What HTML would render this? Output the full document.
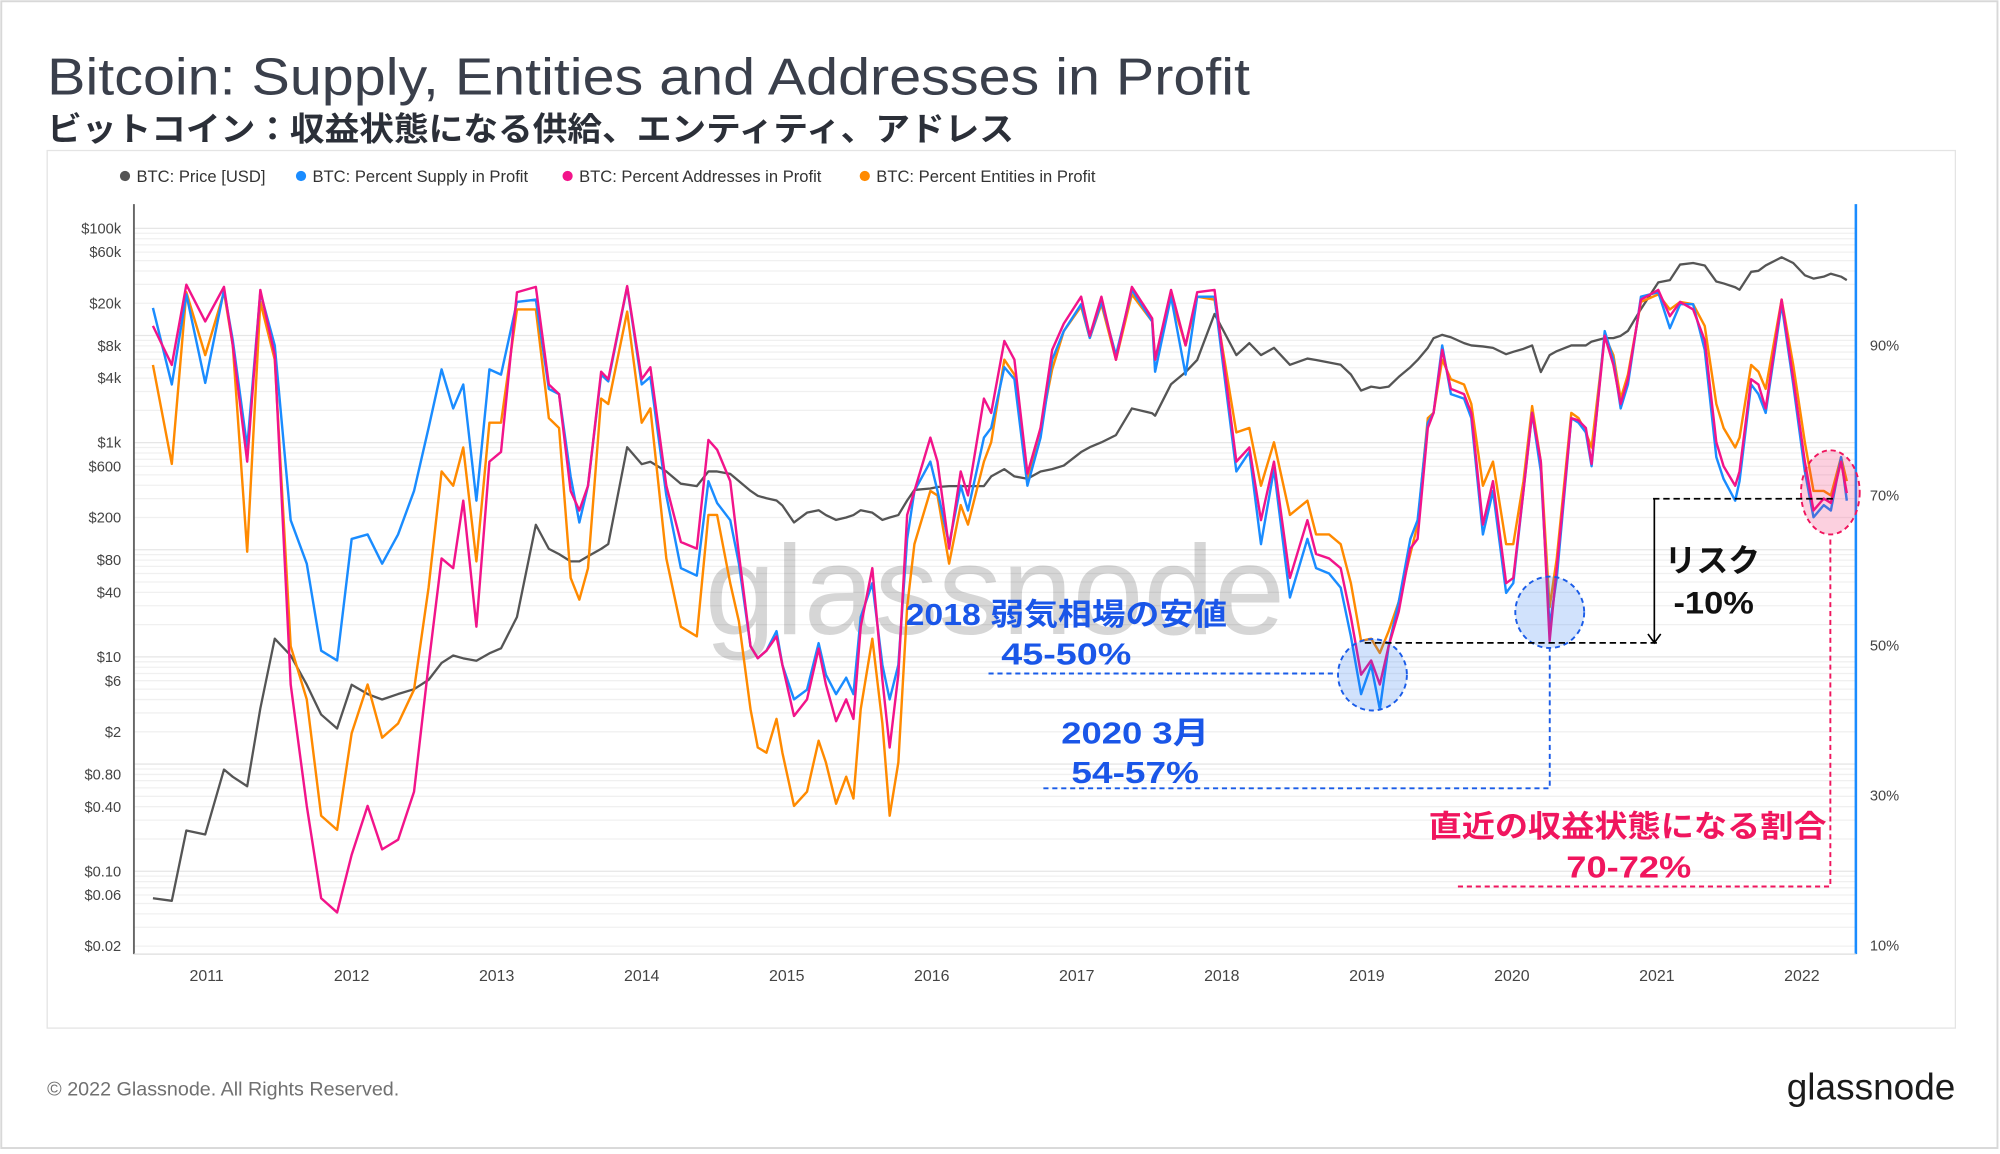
<!DOCTYPE html>
<html><head><meta charset="utf-8">
<style>
html,body{margin:0;padding:0;background:#fff;}
svg{display:block;}
text{font-family:"Liberation Sans","Noto Sans CJK JP",sans-serif;}
</style></head>
<body>
<svg id="chart" width="2000" height="1154" viewBox="0 0 1568 904.7" preserveAspectRatio="none" xmlns="http://www.w3.org/2000/svg">
<rect x="1" y="1" width="1565" height="899" fill="#fff" stroke="#d8d8d8" stroke-width="1.5"/>
<text x="37" y="74" font-size="41" fill="#3a3f4b" font-weight="500" textLength="943" lengthAdjust="spacingAndGlyphs">Bitcoin: Supply, Entities and Addresses in Profit</text>
<text x="37" y="110" font-size="26" font-weight="bold" fill="#2b2f38" textLength="758" lengthAdjust="spacingAndGlyphs">ビットコイン：収益状態になる供給、エンティティ、アドレス</text>
<rect x="37" y="118" width="1496" height="688" fill="#fff" stroke="#e4e4e4" stroke-width="1"/>
<g id="legend">
 <g><circle cx="98" cy="138" r="4" fill="#555"/><text x="107" y="142.5" font-size="13" fill="#333">BTC: Price [USD]</text></g>
 <g><circle cx="236" cy="138" r="4" fill="#1a8cff"/><text x="245" y="142.5" font-size="13" fill="#333">BTC: Percent Supply in Profit</text></g>
 <g><circle cx="445" cy="138" r="4" fill="#f2148a"/><text x="454" y="142.5" font-size="13" fill="#333">BTC: Percent Addresses in Profit</text></g>
 <g><circle cx="678" cy="138" r="4" fill="#ff8a00"/><text x="687" y="142.5" font-size="13" fill="#333">BTC: Percent Entities in Profit</text></g>
</g>
<g id="grid"></g>
<text x="780" y="497" font-size="100" fill="#000" fill-opacity="0.16" text-anchor="middle" textLength="455" lengthAdjust="spacingAndGlyphs">glassnode</text>
<g id="axes"></g>
<g id="series"></g>
<g id="annot">
 <ellipse cx="1076" cy="529" rx="27" ry="28" fill="#1a6cf0" fill-opacity="0.2" stroke="#1a5ce8" stroke-width="1.5" stroke-dasharray="4,3"/>
 <ellipse cx="1215" cy="480" rx="27" ry="28" fill="#1a6cf0" fill-opacity="0.2" stroke="#1a5ce8" stroke-width="1.5" stroke-dasharray="4,3"/>
 <ellipse cx="1435" cy="386" rx="23" ry="33" fill="#f0155e" fill-opacity="0.2" stroke="#f0155e" stroke-width="1.5" stroke-dasharray="4,3"/>
 <line x1="775" y1="528" x2="1048" y2="528" stroke="#1a5ce8" stroke-width="1.5" stroke-dasharray="4,3"/>
 <polyline points="818,618 1215,618 1215,508" fill="none" stroke="#1a5ce8" stroke-width="1.5" stroke-dasharray="4,3"/>
 <line x1="1070" y1="504" x2="1300" y2="504" stroke="#000" stroke-width="1.3" stroke-dasharray="5,3"/>
 <line x1="1296" y1="391" x2="1440" y2="391" stroke="#000" stroke-width="1.3" stroke-dasharray="5,3"/>
 <line x1="1297" y1="391" x2="1297" y2="503" stroke="#000" stroke-width="1.3"/>
 <polyline points="1292,497 1297,504 1302,497" fill="none" stroke="#000" stroke-width="1.3"/>
 <polyline points="1143,695 1435,695 1435,420" fill="none" stroke="#f0155e" stroke-width="1.5" stroke-dasharray="4,3"/>
 <text x="710" y="490" font-size="24" font-weight="bold" fill="#1a56e8" textLength="252" lengthAdjust="spacingAndGlyphs">2018 弱気相場の安値</text>
 <text x="785" y="521" font-size="24" font-weight="bold" fill="#1a56e8" textLength="102" lengthAdjust="spacingAndGlyphs">45-50%</text>
 <text x="832" y="583" font-size="24" font-weight="bold" fill="#1a56e8" textLength="116" lengthAdjust="spacingAndGlyphs">2020 3月</text>
 <text x="840" y="614" font-size="24" font-weight="bold" fill="#1a56e8" textLength="100" lengthAdjust="spacingAndGlyphs">54-57%</text>
 <text x="1305" y="448" font-size="25" font-weight="bold" fill="#111" textLength="75" lengthAdjust="spacingAndGlyphs">リスク</text>
 <text x="1312" y="481" font-size="25" font-weight="bold" fill="#111" textLength="63" lengthAdjust="spacingAndGlyphs">-10%</text>
 <text x="1120" y="656" font-size="24" font-weight="bold" fill="#f0155e" textLength="312" lengthAdjust="spacingAndGlyphs">直近の収益状態になる割合</text>
 <text x="1228" y="688" font-size="24" font-weight="bold" fill="#f0155e" textLength="98" lengthAdjust="spacingAndGlyphs">70-72%</text>
</g>
<text x="37" y="859" font-size="15" fill="#707070" textLength="276" lengthAdjust="spacingAndGlyphs">© 2022 Glassnode. All Rights Reserved.</text>
<text x="1533" y="862" font-size="29" fill="#1b1b1b" text-anchor="end">glassnode</text>
</svg>
<script>
const dates = [2010.63,2010.76,2010.86,2010.99,2011.12,2011.18,2011.28,2011.37,2011.47,2011.58,2011.69,2011.79,2011.90,2012.00,2012.11,2012.21,2012.32,2012.43,2012.53,2012.62,2012.70,2012.77,2012.86,2012.95,2013.03,2013.14,2013.27,2013.36,2013.43,2013.51,2013.57,2013.63,2013.72,2013.77,2013.90,2014.00,2014.06,2014.17,2014.27,2014.38,2014.46,2014.52,2014.61,
2014.67,2014.75,2014.80,2014.86,2014.93,2014.97,2015.05,2015.14,2015.22,2015.27,2015.34,2015.41,2015.46,2015.51,2015.59,2015.66,2015.71,2015.77,2015.83,2015.88,2015.99,2016.04,2016.12,2016.20,2016.25,2016.36,2016.41,2016.50,2016.57,2016.66,2016.75,2016.83,2016.91,2017.03,2017.09,2017.17,2017.27,2017.38,2017.52,2017.54,2017.65,2017.75,2017.83,2017.95,2018.10,2018.19,2018.27,2018.36,2018.47,
2018.59,2018.65,2018.74,2018.82,2018.89,2018.96,2019.03,2019.09,2019.15,2019.22,2019.30,2019.35,2019.42,2019.46,2019.52,2019.58,2019.67,2019.72,2019.80,2019.87,2019.96,2020.01,2020.08,2020.14,2020.20,2020.26,2020.31,2020.41,2020.46,2020.51,2020.55,2020.64,2020.70,2020.75,2020.80,2020.89,2021.01,2021.09,2021.16,2021.25,2021.33,2021.41,2021.46,2021.54,2021.57,2021.65,2021.70,2021.75,2021.86,2021.94,2022.02,2022.08,2022.15,2022.20,2022.27,2022.31];

const supplyPct = [95.0,84.8,96.8,85.0,97.4,90.7,76.4,97.1,90.0,66.7,60.9,49.3,48.0,64.2,64.8,60.9,64.8,70.6,79.0,86.8,81.6,84.8,69.3,86.8,86.1,95.8,96.1,84.2,83.5,72.5,66.4,71.3,86.1,85.2,97.8,84.8,85.8,70.0,60.3,59.3,71.9,69.0,66.7,
60.9,49.9,48.3,49.3,51.9,47.4,42.8,44.1,50.3,46.1,43.5,45.7,43.5,53.8,58.3,47.4,42.8,47.4,64.2,70.6,74.5,70.6,63.5,71.3,68.0,77.7,79.0,87.1,85.5,71.3,77.7,88.1,91.9,95.5,91.0,95.8,88.7,97.4,93.2,86.5,96.5,86.1,96.5,96.5,73.2,75.8,63.5,73.5,56.4,
64.2,60.3,59.6,57.7,51.2,43.5,47.4,41.5,49.9,55.8,64.2,66.7,79.7,81.0,90.0,83.5,82.9,80.3,64.8,70.6,57.0,58.3,70.6,81.0,73.2,52.5,59.0,80.3,79.7,78.4,73.9,91.9,88.1,81.6,84.8,96.5,97.1,92.3,95.5,95.5,89.4,75.1,72.2,69.3,71.9,84.8,83.5,81.0,95.5,84.8,73.2,67.1,68.7,68.0,75.1,69.3];

const addressPct = [92.6,87.4,98.1,93.2,97.8,90.0,74.5,97.4,88.7,44.8,28.6,16.3,14.4,22.1,28.6,22.8,24.1,30.5,47.4,61.6,60.3,69.3,52.5,74.5,75.8,97.1,97.8,84.8,83.5,70.6,68.0,71.3,86.5,85.5,97.9,85.5,87.1,71.3,63.8,62.9,77.4,76.1,71.9,
62.2,49.9,48.3,49.3,51.2,47.4,40.6,42.8,49.6,44.8,39.9,42.8,40.2,52.5,60.3,45.4,36.4,46.1,67.4,70.6,77.7,74.5,62.9,73.2,70.0,82.9,81.0,90.6,88.1,72.9,79.0,89.4,92.9,96.5,91.3,96.5,88.1,97.8,93.6,88.1,97.4,90.0,97.1,97.4,74.5,76.4,66.7,74.5,59.0,
66.7,62.2,61.6,60.3,53.8,46.1,48.0,44.8,49.9,54.5,62.9,64.2,79.0,81.0,89.4,84.2,83.5,81.0,66.1,71.9,58.3,59.0,70.6,81.0,74.5,50.6,60.3,80.3,80.0,79.0,74.2,91.3,87.4,82.2,85.5,96.1,97.4,93.9,95.8,94.8,90.7,77.1,73.9,71.3,73.2,85.5,84.8,81.6,96.1,85.5,74.5,68.0,69.6,69.0,74.5,70.3];

const entityPct = [87.4,74.2,97.1,88.7,97.1,90.0,62.5,95.8,88.1,49.9,42.8,27.3,25.4,38.3,44.8,37.7,39.6,44.1,57.7,73.2,71.3,76.4,61.2,79.7,79.7,94.8,94.8,80.3,79.0,59.0,56.1,60.3,82.9,82.2,94.5,79.7,81.6,61.6,52.5,51.2,67.4,67.4,58.3,
53.2,41.5,36.4,35.7,40.2,35.7,28.6,30.5,37.3,34.4,28.9,32.5,29.6,41.5,50.9,39.6,27.3,34.4,55.1,63.5,70.6,70.0,60.9,68.7,66.1,74.5,77.1,88.1,86.1,72.2,79.0,86.8,91.9,95.2,91.0,95.5,88.1,96.8,93.2,88.1,96.5,90.0,96.5,96.1,78.4,79.0,71.3,77.1,67.4,
69.3,64.8,64.8,63.5,58.3,50.6,50.9,49.0,51.9,55.8,62.2,66.1,80.3,81.0,88.1,85.5,84.8,82.2,71.3,74.5,63.5,63.5,71.9,81.9,74.5,55.1,61.6,81.0,80.3,78.4,76.4,91.3,88.7,82.9,86.1,95.8,96.8,94.8,95.8,95.5,92.6,82.2,79.0,76.4,77.7,87.4,86.5,84.2,96.1,87.4,77.1,70.6,70.6,70.0,75.1,71.9];

const priceUsd = [0.056,0.053,0.24,0.22,0.89,0.76,0.62,3.3,14.8,10.3,5.5,2.9,2.15,5.5,4.5,4.0,4.5,5.0,6.1,8.8,10.3,9.7,9.2,10.8,12.0,23.6,171,102,91,78,78,87,102,113,906,629,662,538,414,393,538,538,511,
437,355,319,303,288,259,180,222,234,211,190,200,211,234,222,190,200,211,288,362,373,385,393,393,393,393,484,566,484,460,538,566,610,816,906,1005,1175,2085,1877,1782,3510,4550,5900,15900,6550,8490,6550,7660,5320,
6090,5900,5600,5320,4320,3060,3330,3230,3330,4100,5050,5900,7660,9440,10140,9630,8490,8070,7900,7660,6680,7050,7500,8070,4550,6550,7130,8070,8070,8070,8770,9440,9440,9930,11030,17620,31260,32900,45900,47400,45000,31900,30600,28200,26700,39300,40100,45000,53700,47400,36500,34000,35400,37700,35400,32900];

const yearTicks = [2011,2012,2013,2014,2015,2016,2017,2018,2019,2020,2021,2022];
const priceTicks = [100000,60000,20000,8000,4000,1000,600,200,80,40,10,6,2,0.8,0.4,0.1,0.06,0.02];
const priceTickLabels = ["$100k","$60k","$20k","$8k","$4k","$1k","$600","$200","$80","$40","$10","$6","$2","$0.80","$0.40","$0.10","$0.06","$0.02"];
const pctTicks = [90,70,50,30,10];

const NS = "http://www.w3.org/2000/svg";
const PL = 105, PR = 1455, PT = 160, PB = 748;
function xScale(y){ return 162 + (y - 2011) * 113.7; }
function yPct(v){ return 800 - v * 5.88; }
function yPrice(p){ return 347 - 84 * Math.log10(p / 1000); }
function mk(tag, attrs, parent){
  const e = document.createElementNS(NS, tag);
  for (const k in attrs) e.setAttribute(k, attrs[k]);
  parent.appendChild(e);
  return e;
}
const grid = document.getElementById('grid');
const axes = document.getElementById('axes');
const series = document.getElementById('series');

for (let d = -2; d <= 5; d++) {
  for (let m = 1; m <= 9; m++) {
    const y = yPrice(m * Math.pow(10, d));
    if (y < PT || y > PB) continue;
    const gl = mk('line', {x1: PL, x2: PR, y1: y, y2: y, stroke: (m === 1 ? '#e6e6e6' : '#f0f0f0'), 'stroke-width': 1}, grid);
    
    
  }
}
const la = mk('line', {x1: PL, x2: PL, y1: PT, y2: PB, stroke: '#666', 'stroke-width': 1.5}, axes);


const ra = mk('line', {x1: PR, x2: PR, y1: PT, y2: PB, stroke: '#1a8cff', 'stroke-width': 2}, axes);


const ba = mk('line', {x1: PL, x2: PR, y1: PB, y2: PB, stroke: '#ddd', 'stroke-width': 1}, axes);



yearTicks.forEach(function(yr){
  const t = mk('text', {x: xScale(yr), y: 769, 'font-size': 12.5, fill: '#444', 'text-anchor': 'middle'}, axes);
  t.textContent = String(yr);
  
  
});
priceTicks.forEach(function(p, i){
  const t = mk('text', {x: 95, y: yPrice(p) + 4, 'font-size': 11.5, fill: '#444', 'text-anchor': 'end'}, axes);
  t.textContent = priceTickLabels[i];
  
  
});
pctTicks.forEach(function(v){
  const t = mk('text', {x: 1466, y: yPct(v) + 4, 'font-size': 11.5, fill: '#444'}, axes);
  t.textContent = v + '%';
  
  
});

function drawLine(vals, yfn, color, name, w){
  const n = Math.min(vals.length, dates.length);
  let d = '';
  for (let i = 0; i < n; i++) {
    d += (i ? 'L' : 'M') + xScale(dates[i]).toFixed(1) + ',' + yfn(vals[i]).toFixed(1);
  }
  const p = mk('path', {d: d, fill: 'none', stroke: color, 'stroke-width': w, 'stroke-linejoin': 'round'}, series);
  
  
}
drawLine(priceUsd, yPrice, '#555', 'price-line', 1.8);
drawLine(entityPct, yPct, '#ff8a00', 'entities-in-profit-line', 1.9);
drawLine(supplyPct, yPct, '#1a8cff', 'supply-in-profit-line', 1.9);
drawLine(addressPct, yPct, '#f2148a', 'addresses-in-profit-line', 1.9);
</script>
</body></html>
